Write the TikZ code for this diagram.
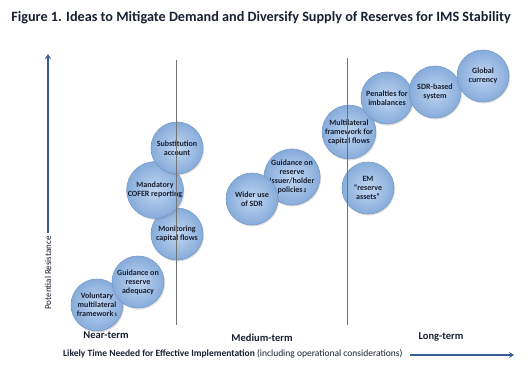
\documentclass[tikz,border=0pt]{standalone}
\usepackage{fontspec}
\setmainfont{Carlito}
\usetikzlibrary{shadows,arrows.meta}
\definecolor{circin}{RGB}{192,214,241}
\definecolor{circout}{RGB}{135,172,218}
\definecolor{circedge}{RGB}{118,155,202}
\definecolor{axisblue}{RGB}{55,93,145}
\definecolor{textc}{RGB}{25,32,50}
\tikzset{
  idea/.style={circle, minimum size=52pt, inner sep=0pt, draw=circedge, line width=0.6pt,
    inner color=circin, outer color=circout, text=textc, align=center,
    font=\fontsize{8}{9}\selectfont\bfseries,
    drop shadow={opacity=0.25, shadow xshift=1pt, shadow yshift=-1.5pt}},
  divider/.style={draw=black!55, line width=0.8pt},
  axisarrow/.style={draw=axisblue, line width=2.2pt, -{Stealth[length=5pt,width=6pt]}},
  termlabel/.style={font=\fontsize{10.5}{12}\selectfont\bfseries, text=textc},
}
\begin{document}
\begin{tikzpicture}[x=1pt,y=-1pt]
\useasboundingbox (0,0) rectangle (530,369);
\fill[white] (0,0) rectangle (530,369);
\node[font=\fontsize{14.2}{16}\selectfont\bfseries, text=textc] (title) at (261,18) {Figure 1. Ideas to Mitigate Demand and Diversify Supply of Reserves for IMS Stability};

% circles
\node[idea] (vol) at (97,305) {Voluntary\\multilateral\\framework{\fontsize{5.5}{6}\selectfont\,1}};
\node[idea] (gra) at (138,282) {Guidance on\\reserve\\adequacy};
\node[idea] (mon) at (177,234) {Monitoring\\capital flows};
\node[idea] (cof) at (155,190) {Mandatory\\COFER reporting};
\node[idea] (sub) at (177,148) {Substitution\\account};
\node[idea] (gih) at (292,177) {Guidance on\\reserve\\issuer/holder\\policies{\fontsize{5.5}{6}\selectfont\,2}};
\node[idea] (wid) at (252,199) {Wider use\\of SDR};
\node[idea] (em) at (368,188) {EM\\``reserve\\assets''};
\node[idea] (mul) at (349,132) {Multilateral\\framework for\\capital flows};
\node[idea] (pen) at (387,98) {Penalties for\\imbalances};
\node[idea] (sdr) at (435,92) {SDR-based\\system};
\node[idea] (glo) at (483,76) {Global\\currency};

% dividers
\coordinate (d1t) at (176,60);
\coordinate (d1b) at (176,325);
\coordinate (d2t) at (347,58);
\coordinate (d2b) at (347,325);
\draw[divider] (d1t) -- (d1b);
\draw[divider] (d2t) -- (d2b);

% y axis
\coordinate (yb) at (48,233);
\coordinate (yt) at (48,54);
\draw[axisarrow] (yb) -- (yt);
\node[rotate=90, font=\fontsize{9}{11}\selectfont, text=textc] (ylab) at (48,273) {Potential Resistance};

% term labels
\node[termlabel] (near) at (106,335) {Near-term};
\node[termlabel] (med) at (262,338) {Medium-term};
\node[termlabel] (long) at (441,337) {Long-term};

% x axis
\node[font=\fontsize{9.5}{11}\selectfont, text=textc, anchor=west, inner sep=0pt] (xlab) at (63,354) {\textbf{Likely Time Needed for Effective Implementation} (including operational considerations)};
\coordinate (xb) at (410,355);
\coordinate (xt) at (514,355);
\draw[axisarrow, line width=1.8pt] (xb) -- (xt);
\end{tikzpicture}
\end{document}
